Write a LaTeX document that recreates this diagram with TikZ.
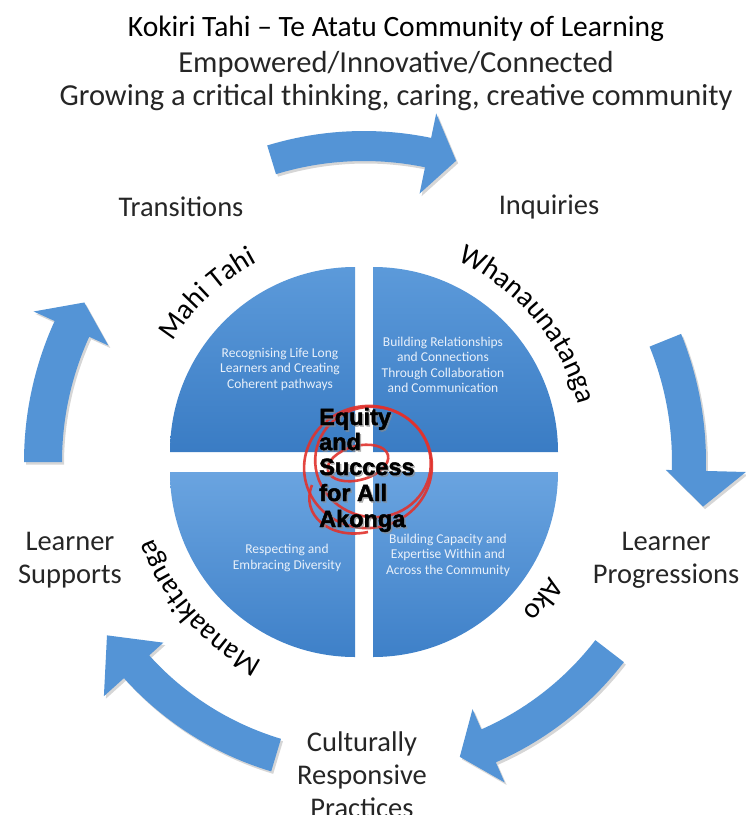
\documentclass[tikz,border=0pt]{standalone}
\usepackage{fontspec}
\setmainfont{Carlito}
\newfontfamily\heavyfont{Liberation Sans}[FakeBold=2]
\usetikzlibrary{decorations.text}
\definecolor{arrowblue}{RGB}{84,148,214}
\definecolor{qtop}{RGB}{92,154,218}
\definecolor{qbot}{RGB}{58,124,196}
\definecolor{ltop}{RGB}{106,164,224}
\definecolor{lbot}{RGB}{62,128,200}
\definecolor{scrib}{RGB}{225,50,45}
\definecolor{labelgray}{RGB}{38,38,38}
\definecolor{qtext}{RGB}{232,240,250}
\newcommand{\arcfont}{\fontsize{29}{33}\selectfont\color{black}}
% style, a1, ahead, atip, r, w, rhead, Hhead
\newcommand{\ringarrow}[8]{%
  \fill[#1] ({#2}:{#5+#6}) arc[start angle={#2}, end angle={#3}, radius={#5+#6}]
    -- ({#3}:{#7+#8}) -- ({#4}:{#7}) -- ({#3}:{#7-#8})
    -- ({#3}:{#5-#6}) arc[start angle={#3}, end angle={#2}, radius={#5-#6}] -- cycle;}
\newcommand{\shadedarrow}[7]{%
  \ringarrow{arrowshadow}{#1}{#2}{#3}{#4}{#5}{#6}{#7}%
  \ringarrow{arrowbody}{#1}{#2}{#3}{#4}{#5}{#6}{#7}}
\tikzset{
  arrowbody/.style={fill=arrowblue},
  arrowshadow/.style={fill=black, opacity=0.16, shift={(2,-2.5)}},
  quadU/.style={top color=qtop, bottom color=qbot},
  quadL/.style={top color=ltop, bottom color=lbot},
  qlabel/.style={text=qtext, align=center, font=\fontsize{13.5}{15.5}\selectfont, inner sep=0},
  biglabel/.style={text=labelgray, align=center, font=\fontsize{28.5}{33}\selectfont, inner sep=0},
  titletext/.style={font=\fontsize{29.5}{34}\selectfont, inner sep=0},
  subtext/.style={font=\fontsize{30.5}{34}\selectfont, inner sep=0, text=labelgray},
  centertext/.style={font=\heavyfont\bfseries\fontsize{23.5}{25}\selectfont, anchor=base west, inner sep=0, text=black},
  centershadow/.style={font=\heavyfont\bfseries\fontsize{23.5}{25}\selectfont, anchor=base west, inner sep=0, text=black!45, opacity=0.6},
  scribble/.style={draw=scrib, line width=2.6pt, opacity=0.9},
  arclabel/.style={decorate, decoration={text along path, text align=center, text={|\arcfont|#1}}}
}
\begin{document}
\begin{tikzpicture}[x=1pt,y=1pt]
\useasboundingbox[fill=white] (0,0) rectangle (746,-815);

% titles
\node[titletext, text=black] (title) at (396,-29) {Kokiri Tahi -- Te Atatu Community of Learning};
\node[subtext] (sub1) at (396,-64) {Empowered/Innovative/Connected};
\node[subtext] (sub2) at (396,-98) {Growing a critical thinking, caring, creative community};

% quadrants
\path[quadU] (355,-452) -- ++(-185,0) arc[start angle=180, end angle=90, radius=185] -- cycle;
\path[quadU] (373,-452) -- ++(0,185) arc[start angle=90, end angle=0, radius=185] -- cycle;
\path[quadL] (355,-472) -- ++(-185,0) arc[start angle=180, end angle=270, radius=185] -- cycle;
\path[quadL] (373,-472) -- ++(185,0) arc[start angle=0, end angle=-90, radius=185] -- cycle;

\node[qlabel] (qul) at (280,-369) {Recognising Life Long\\Learners and Creating\\Coherent pathways};
\node[qlabel] (qur) at (443,-365) {Building Relationships\\and Connections\\Through Collaboration\\and Communication};
\node[qlabel] (qll) at (287,-558) {Respecting and\\Embracing Diversity};
\node[qlabel] (qlr) at (448,-555) {Building Capacity and\\Expertise Within and\\Across the Community};

% arrows and arc labels around the centre
\begin{scope}[shift={(364,-462)}]
  \shadedarrow{107}{78.3}{73}{316}{15}{315}{41}
  \shadedarrow{22}{-1.5}{-7.5}{325}{17}{342}{40}
  \shadedarrow{-37.6}{-66.3}{-72}{310}{18}{310}{40}
  \shadedarrow{253.3}{222}{214}{306}{17}{310}{40}
  \shadedarrow{180}{155.5}{150.3}{321}{19}{322}{41}

  \path[arclabel={Mahi Tahi}] (173:226) arc[start angle=173, end angle=93, radius=226];
  \path[arclabel={Whanaunatanga}] (80:222) arc[start angle=80, end angle=0, radius=222];
  \path[arclabel={Ako}] (2.4:218) arc[start angle=2.4, end angle=-77.6, radius=218];
  \path[arclabel={Manaakitanga}] (261.5:224) arc[start angle=261.5, end angle=181.5, radius=224];
\end{scope}

% red scribble
\draw[scribble] (368,-467) ellipse [x radius=64, y radius=61, rotate=10];
\draw[scribble] (373,-462) ellipse [x radius=58, y radius=55, rotate=-15];
\draw[scribble] (358,-463) ellipse [x radius=31, y radius=17, rotate=15];
\draw[scribble] (312,-485) .. controls (300,-515) and (330,-540) .. (368,-532);

% centre text
\foreach \t/\yy/\nm in {Equity/425/ca, and/450/cb, Success/475/cc, for All/501/cd, Akonga/527/ce}{
  \node[centershadow] (\nm s) at (320.5,-\yy-1.5) {\t};
  \node[centertext] (\nm) at (319,-\yy) {\t};
}

% outer labels
\node[biglabel] (trans) at (181,-207) {Transitions};
\node[biglabel] (inq) at (549,-207) {Inquiries};
\node[biglabel] (lsup) at (70,-560) {Learner\\Supports};
\node[biglabel] (lprog) at (666,-560) {Learner\\Progressions};
\node[biglabel] (crp) at (362,-775) {Culturally\\Responsive\\Practices};
\end{tikzpicture}
\end{document}
